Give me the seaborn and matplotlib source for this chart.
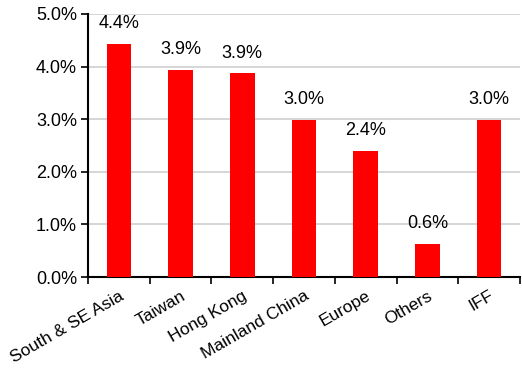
import matplotlib
matplotlib.use("Agg")
import matplotlib.pyplot as plt
import seaborn as sns
import numpy as np
import pandas as pd
from matplotlib.ticker import FuncFormatter, FixedLocator

categories = ["South & SE Asia", "Taiwan", "Hong Kong", "Mainland China", "Europe", "Others", "IFF"]
values = [4.43, 3.94, 3.87, 2.99, 2.40, 0.63, 2.99]
labels = ["4.4%", "3.9%", "3.9%", "3.0%", "2.4%", "0.6%", "3.0%"]

sns.set_style("white")
plt.rcParams['font.family'] = ['Liberation Sans', 'DejaVu Sans']

fig = plt.figure(figsize=(5.22, 3.69), dpi=100)
ax = fig.add_axes([88/522, 1-277/369, 432/522, 263/369])

df = pd.DataFrame({"cat": categories, "val": values})
sns.barplot(data=df, x="cat", y="val", color="#ff0000", saturation=1, width=0.4,
            linewidth=0, ax=ax, zorder=3)

ax.set_ylim(0, 5)
ax.set_xlim(-0.5, len(categories) - 0.5)
ax.set_yticks(np.arange(0, 5.01, 1))
ax.yaxis.set_major_formatter(FuncFormatter(lambda v, p: f"{v:.1f}%"))
ax.yaxis.grid(True, color="#d0d0d0", linewidth=1.2, zorder=0)
ax.set_axisbelow(True)

for i, (v, l) in enumerate(zip(values, labels)):
    ax.text(i, v + 0.22, l, ha="center", va="bottom", fontsize=13, color="black")

ax.set_xlabel("")
ax.set_ylabel("")
ax.set_xticks(range(len(categories)))
ax.set_xticklabels(categories, rotation=30, ha="right", rotation_mode="anchor", fontsize=12.5, color="black")
ax.tick_params(axis="x", which="major", length=0, pad=8)
ax.xaxis.set_minor_locator(FixedLocator(np.arange(-0.5, len(categories), 1.0)))
ax.tick_params(axis="x", which="minor", length=5, width=1.2, color="black", direction="out", bottom=True)
ax.tick_params(axis="y", length=5, width=1.2, color="black", direction="out", left=True,
               labelsize=13, labelcolor="black", pad=3)

for s in ["top", "right"]:
    ax.spines[s].set_visible(False)
for s in ["left", "bottom"]:
    ax.spines[s].set_color("black")
    ax.spines[s].set_linewidth(1.5)

fig.savefig("out.png", dpi=100)
